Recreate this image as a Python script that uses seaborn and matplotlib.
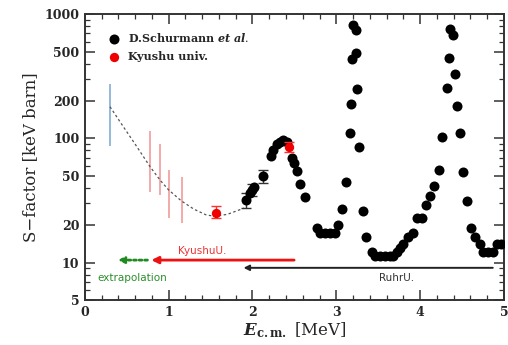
import numpy as np
import pandas as pd
import matplotlib
matplotlib.use("Agg")
import matplotlib.pyplot as plt
from matplotlib.ticker import LogLocator, FixedLocator, NullFormatter, MultipleLocator
import seaborn as sns

sns.set_style("ticks")
plt.rcParams['font.family'] = ['DejaVu Serif']
plt.rcParams['mathtext.fontset'] = 'custom'
plt.rcParams['mathtext.rm'] = 'DejaVu Serif'
plt.rcParams['mathtext.it'] = 'DejaVu Serif:italic:bold'
plt.rcParams['mathtext.bf'] = 'DejaVu Serif:bold'

# Schurmann et al. data (E in MeV, S in keV barn)
schur_E = [1.92, 1.97, 2.00, 2.02, 2.12, 2.22, 2.25, 2.29, 2.33, 2.37, 2.41, 2.47, 2.49, 2.53,
           2.57, 2.63, 2.77, 2.80, 2.86, 2.92, 2.98, 3.02, 3.07, 3.12, 3.16, 3.18, 3.19, 3.20,
           3.23, 3.24, 3.25, 3.27, 3.32, 3.36, 3.42, 3.46, 3.52, 3.58, 3.64, 3.68, 3.72, 3.76,
           3.80, 3.86, 3.91, 3.96, 4.02, 4.07, 4.12, 4.17, 4.22, 4.26, 4.32, 4.34, 4.36, 4.39,
           4.42, 4.44, 4.47, 4.51, 4.56, 4.61, 4.66, 4.71, 4.75, 4.81, 4.87, 4.92, 4.96]
schur_S = [31.9, 36.5, 38.8, 40.4, 49.8, 72, 80.5, 89.5, 93, 98, 93, 70, 63, 54.6,
           42.7, 34, 19.1, 17.4, 17.4, 17.4, 17.4, 20.3, 27, 45, 110, 190, 432, 816,
           744, 489, 248, 85, 26, 16.2, 12.2, 11.3, 11.3, 11.3, 11.3, 11.3, 12.2, 13.1,
           14.1, 16.2, 17.2, 23, 23, 29.3, 34.3, 41.5, 56, 102, 255, 440, 753, 674,
           333, 183, 111, 53.5, 31.5, 19.1, 16.2, 14.1, 12.2, 12.2, 12.2, 14.1, 14.1]
# error bars shown on a few low energy Schurmann points
schur_err_E = [1.92, 2.00, 2.12]
schur_err_S = [31.9, 38.8, 49.8]
schur_err = [4.5, 4.5, 6]

# Kyushu univ. points
kyu_E = [1.56, 2.43]
kyu_S = [25.2, 85.7]
kyu_lo = [2.5, 8]
kyu_hi = [3.5, 8]

# pale error bars (low energy)
pink_E = [0.78, 0.90, 1.01, 1.16]
pink_lo = [37, 35, 23, 21]
pink_hi = [115, 91, 55.6, 48.5]
blue_E = [0.30]
blue_lo = [86.7]
blue_hi = [274]

# dashed extrapolation curve
fit_E = [0.30, 0.45, 0.60, 0.78, 0.90, 1.00, 1.15, 1.30, 1.45, 1.55, 1.70, 1.90]
fit_S = [180, 127, 90, 59, 46, 38.5, 31.5, 27, 24.2, 23.7, 24.5, 27.5]

schur = pd.DataFrame({"E": schur_E, "S": schur_S})
kyu = pd.DataFrame({"E": kyu_E, "S": kyu_S})
fit = pd.DataFrame({"E": fit_E, "S": fit_S})

fig = plt.figure(figsize=(5.08, 3.45), dpi=100)
ax = fig.add_axes([0.167, 0.130, 0.825, 0.829])
ax.set_yscale("log")

# pale error bars
ax.vlines(blue_E, blue_lo, blue_hi, color="#8fb4d8", lw=1.3)
ax.vlines(pink_E, pink_lo, pink_hi, color="#f2a3a3", lw=1.3)

sns.lineplot(data=fit, x="E", y="S", ax=ax, color="#555555", lw=0.9, linestyle=(0, (2, 2)))

ax.errorbar(schur_err_E, schur_err_S, yerr=schur_err, fmt="none", ecolor="#333333",
            elinewidth=1, capsize=3.5)
sns.scatterplot(data=schur, x="E", y="S", ax=ax, color="black", s=52, edgecolor="black",
                linewidth=0, marker="o", label=r"D.Schurmann $et\ al.$", zorder=3)
ax.errorbar(kyu_E, kyu_S, yerr=[kyu_lo, kyu_hi], fmt="none", ecolor="#ff3030",
            elinewidth=1, capsize=3.5, zorder=4)
sns.scatterplot(data=kyu, x="E", y="S", ax=ax, color="#ee0000", s=45, edgecolor="#ee0000",
                linewidth=0, marker="o", label="Kyushu univ.", zorder=5)

# arrows
ax.annotate("", xy=(0.76, 10.5), xytext=(2.53, 10.5),
            arrowprops=dict(arrowstyle="-|>", color="#ee1111", lw=2, mutation_scale=10))
ax.annotate("", xy=(0.36, 10.5), xytext=(0.78, 10.5),
            arrowprops=dict(arrowstyle="-|>", color="#1f8a1f", lw=2, linestyle=(0, (1, 1)),
                            mutation_scale=9))
ax.annotate("", xy=(1.86, 9.1), xytext=(4.9, 9.1),
            arrowprops=dict(arrowstyle="-|>", color="#222222", lw=1.4, mutation_scale=8))
ax.text(1.40, 12.4, "KyushuU.", color="#ee3333", fontsize=7.5, family="DejaVu Sans",
        ha="center", va="center")
ax.text(0.57, 7.6, "extrapolation", color="#2a8f2a", fontsize=7.5, family="DejaVu Sans",
        ha="center", va="center")
ax.text(3.72, 7.6, "RuhrU.", color="#333333", fontsize=7.5, family="DejaVu Sans",
        ha="center", va="center")

ax.set_xlim(0, 5)
ax.set_ylim(5, 1000)
ax.xaxis.set_major_locator(MultipleLocator(1))
ax.xaxis.set_minor_locator(MultipleLocator(0.2))
ax.yaxis.set_major_locator(FixedLocator([5, 10, 20, 50, 100, 200, 500, 1000]))
ax.yaxis.set_major_formatter(matplotlib.ticker.FixedFormatter(["5", "10", "20", "50", "100", "200", "500", "1000"]))
ax.yaxis.set_minor_locator(LogLocator(base=10, subs=np.arange(1, 10)))
ax.yaxis.set_minor_formatter(NullFormatter())
ax.tick_params(which="both", direction="in", top=True, right=True, color="#333333",
               labelsize=9, pad=4)
ax.tick_params(which="major", length=7, width=1.1)
ax.tick_params(which="minor", length=3.5, width=0.9)
for lab in ax.get_xticklabels() + ax.get_yticklabels():
    lab.set_fontweight("bold")
for sp in ax.spines.values():
    sp.set_linewidth(1.4)
    sp.set_color("#333333")

ax.set_xlabel(r"$E_{\mathbf{c.m.}}$ [MeV]", fontsize=12, labelpad=1)
ax.set_ylabel("S\u2212factor [keV barn]", fontsize=12, labelpad=4)

leg = ax.legend(loc="upper left", bbox_to_anchor=(0.02, 0.975), frameon=False,
                prop=dict(size=8, weight="bold"), handletextpad=0.2, labelspacing=0.6,
                markerscale=1.0)

fig.savefig("out.png", dpi=100)
